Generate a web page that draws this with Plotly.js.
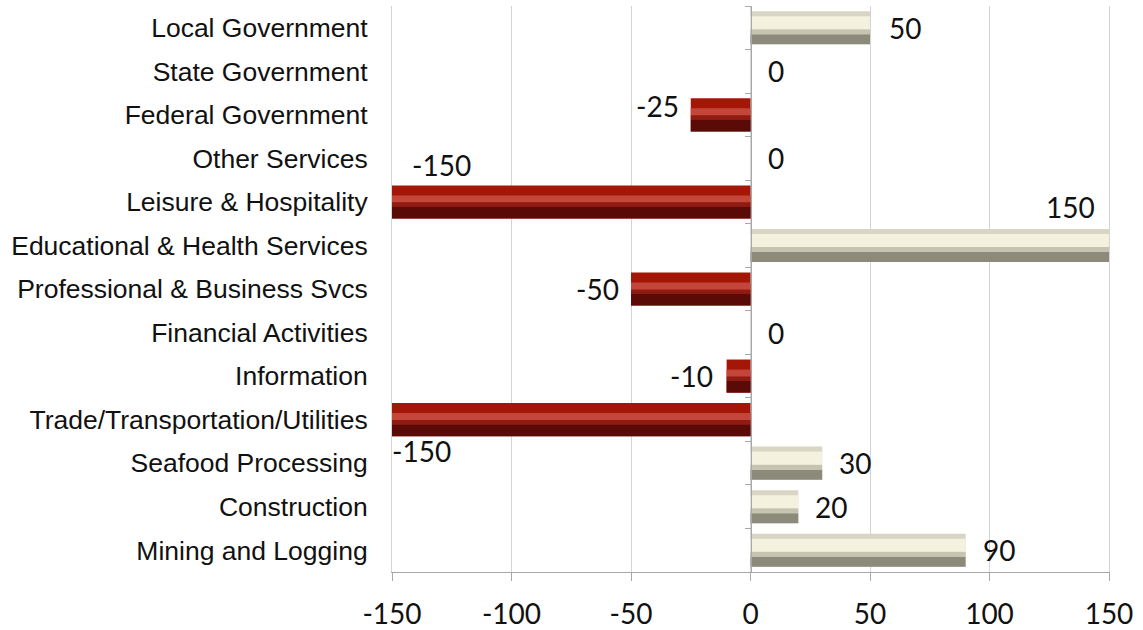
<!DOCTYPE html>
<html>
<head>
<meta charset="utf-8">
<script src="https://cdn.plot.ly/plotly-3.0.1.min.js"></script>
<style>
  html, body { margin: 0; padding: 0; background: #ffffff; }
  #chart { width: 1143px; height: 630px; }
</style>
</head>
<body>
<div id="chart"></div>
<script>
// Employment change by industry, bottom row first
const categories = [
  "Mining and Logging",
  "Construction",
  "Seafood Processing",
  "Trade/Transportation/Utilities",
  "Information",
  "Financial Activities",
  "Professional & Business Svcs",
  "Educational & Health Services",
  "Leisure & Hospitality",
  "Other Services",
  "Federal Government",
  "State Government",
  "Local Government"
];
const changes = [90, 20, 30, -150, -10, 0, -50, 150, -150, 0, -25, 0, 50];

const xTickVals = [-150, -100, -50, 0, 50, 100, 150];
const xTickText = ["-150", "-100", "-50", "0", "50", "100", "150"];

// Value-label placement tweaks (pixels), one per row
const labelAnchor = ["left", "left", "left", "left", "right", "left", "right", "right", "left", "left", "right", "left", "left"];
const labelDx = [15, 15, 15, -2, -12, 15, -10, -12, 18, 15, -10, 15, 17];
const labelDy = [0, 0, 0, -31, 0, 0, 0, 38, 37, 0, 9, 0, 0];

// Bevel shading: every bar is built from stacked bands.
// Geometry (offset/width in category units) and colour differ for gains and losses.
const bands = [
  { pos: { offset: -0.38,  width: 0.76,  color: "#d8d5c4" },   // top edge / body
    neg: { offset: -0.38,  width: 0.76,  color: "#a41707" } },
  { pos: { offset: -0.38,  width: 0.23,  color: "#8b8a7b" },   // shaded lower band
    neg: { offset: -0.38,  width: 0.27,  color: "#5b0b07" } },
  { pos: { offset: -0.15,  width: 0.115, color: "#c6c4b1" },   // transition
    neg: { offset: -0.11,  width: 0.10,  color: "#8e1c12" } },
  { pos: { offset: -0.035, width: 0.30,  color: "#f4f1df" },   // highlight
    neg: { offset: -0.01,  width: 0.16,  color: "#c4463b" } }
];

const traces = bands.map((b, i) => {
  const pick = v => (v >= 0 ? b.pos : b.neg);
  return {
    type: "bar",
    orientation: "h",
    y: categories,
    x: changes,
    base: 0,
    width: changes.map(v => pick(v).width),
    offset: changes.map(v => pick(v).offset),
    marker: {
      color: changes.map(v => pick(v).color),
      line: { width: 0 }
    },
    yaxis: i === bands.length - 1 ? "y2" : "y",
    hoverinfo: i === 0 ? "y+x" : "skip",
    showlegend: false
  };
});

const annotations = categories.map((c, i) => ({
  x: changes[i],
  y: c,
  xref: "x",
  yref: "y",
  text: String(changes[i]),
  showarrow: false,
  xanchor: labelAnchor[i],
  yanchor: "middle",
  xshift: labelDx[i],
  yshift: labelDy[i],
  font: { family: "Lato, 'Open Sans', sans-serif", size: 28, color: "#111111" }
}));

const layout = {
  width: 1143,
  height: 630,
  margin: { l: 392, r: 34, t: 6, b: 58, pad: 0 },
  paper_bgcolor: "#ffffff",
  plot_bgcolor: "#ffffff",
  barmode: "overlay",
  showlegend: false,
  xaxis: {
    range: [-150, 150],
    tickvals: xTickVals,
    ticktext: xTickText,
    showgrid: true,
    gridcolor: "#d4d4d4",
    gridwidth: 1,
    zeroline: false,
    showline: true,
    linecolor: "#a8a8a8",
    linewidth: 1,
    ticks: "outside",
    ticklen: 8,
    tickcolor: "#a8a8a8",
    ticklabelstandoff: 9,
    tickfont: { family: "Lato, 'Open Sans', sans-serif", size: 28, color: "#111111" },
    fixedrange: true
  },
  yaxis: {
    type: "category",
    categoryorder: "array",
    categoryarray: categories,
    range: [-0.5, categories.length - 0.5],
    showgrid: false,
    zeroline: false,
    showline: true,
    mirror: true,
    linecolor: "#d4d4d4",
    linewidth: 1,
    ticks: "",
    ticklabelstandoff: 18,
    tickfont: { family: "'Liberation Sans', Arial, sans-serif", size: 26.5, color: "#111111" },
    fixedrange: true
  },
  yaxis2: {
    type: "category",
    categoryorder: "array",
    categoryarray: categories,
    range: [-0.5, categories.length - 0.5],
    overlaying: "y",
    anchor: "free",
    position: 0.5,
    side: "left",
    showgrid: false,
    zeroline: false,
    showline: true,
    linecolor: "#a8a8a8",
    linewidth: 1,
    ticks: "outside",
    tickson: "boundaries",
    ticklen: 6,
    tickcolor: "#a8a8a8",
    showticklabels: false,
    fixedrange: true
  },
  annotations: annotations
};

Plotly.newPlot("chart", traces, layout, { displayModeBar: false, staticPlot: true });
</script>
</body>
</html>
